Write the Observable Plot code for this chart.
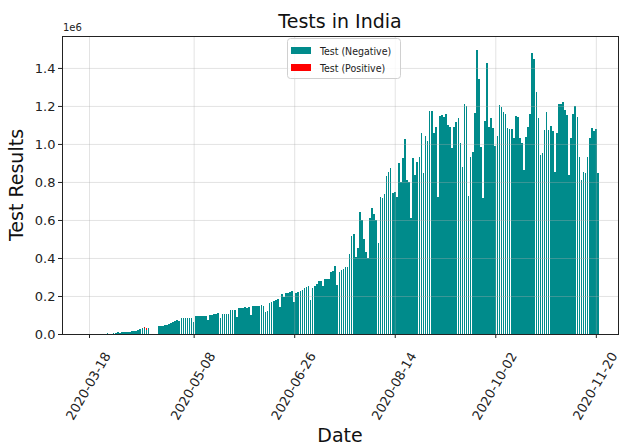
<!DOCTYPE html>
<html><head><meta charset="utf-8">
<script src="https://cdn.jsdelivr.net/npm/d3@7"></script>
<script src="https://cdn.jsdelivr.net/npm/@observablehq/plot@0.6"></script>
<style>
html,body{margin:0;padding:0;background:#fff;}
#chart{position:relative;width:620px;height:445px;overflow:hidden;}
</style></head><body><div id="chart"></div>
<script>
// ---- data (daily tests, in thousands; null = no report) ----
const startDate = "2020-03-18";
const negative = [
 1.5,null,null,null,null,null,null,null,null,5,
 null,null,4,6,8,6,8,9,10,11,
 12,14,14,17,20,25,29,30,22,34,
 null,null,null,null,40,42,44,46,49,53,
 57,63,67,72,70,82,83,83,83,83,
 82,62,94,95,95,96,95,94,74,102,
 102,103,104,112,86,104,103,105,104,124,
 126,125,91,137,138,139,140,139,141,100,
 147,149,148,149,151,149,118,120,165,170,
 175,180,186,140,211,196,214,218,222,224,
 170,215,222,228,232,242,248,252,179,240,
 255,265,281,281,250,288,288,290,328,330,
 360,258,328,335,340,350,353,421,516,526,
 407,451,644,600,500,430,400,609,661,632,
 600,477,719,715,735,832,853,872,740,745,
 720,900,800,925,1025,810,800,609,925,837,
 907,933,1059,846,1040,1015,1175,1175,1060,1091,
 722,1147,1153,1140,1160,1100,1091,977,1091,1118,
 1135,1004,880,1211,1200,728,933,960,1162,1495,
 1340,986,714,1120,1425,1091,1135,1083,990,1040,
 1205,1196,1170,1160,1083,1080,1077,1030,1147,1140,
 1030,1004,863,1039,1091,1160,1477,1446,1275,1135,
 942,955,1074,1170,1074,1095,1070,854,1056,1211,
 1211,1223,1180,1150,837,1030,1158,1200,1140,933,
 811,854,849,933,1030,1083,1070,1077,849
];
const positiveDates = ["2020-04-03","2020-04-06","2020-04-09","2020-04-14","2020-04-15","2020-04-21"];
const positiveValues = [2,2,3,5,8,3];
const seriesNames = ["Test (Negative)", "Test (Positive)"];
const seriesColors = ["#008b8b", "#ff0000"];
const xTickLabels = ["2020-03-18","2020-05-08","2020-06-26","2020-08-14","2020-10-02","2020-11-20"];
const yTickValues = [0, 0.2, 0.4, 0.6, 0.8, 1.0, 1.2, 1.4];

// ---- build table ----
const DAY = 864e5;
const t0 = Date.parse(startDate);
const negByTime = new Map();
const rows = [];
negative.forEach((v, i) => {
  if (v == null) return;
  const t = t0 + i * DAY;
  negByTime.set(t, v * 1000);
  rows.push({t, series: seriesNames[0], lo: 0, hi: v * 1000});
});
positiveDates.forEach((d, i) => {
  const t = Date.parse(d);
  const base = negByTime.get(t) || 0;
  rows.push({t, series: seriesNames[1], lo: base, hi: base + positiveValues[i] * 1000});
});
const xTicks = xTickLabels.map(d => new Date(d));
const yTicks = yTickValues.map(v => v * 1e6);

const W = 620, H = 445, mL = 62, mR = 2, mT = 36, mB = 111;
const xDomain = [new Date(t0 - 13.16 * DAY), new Date(t0 + 257.8 * DAY)];

const plot = Plot.plot({
  width: W, height: H,
  marginLeft: mL, marginRight: mR, marginTop: mT, marginBottom: mB,
  style: {fontFamily: "DejaVu Sans", fontSize: "13px", color: "#222", background: "#fff"},
  x: {type: "utc", domain: xDomain},
  y: {domain: [0, 1.568e6]},
  color: {domain: seriesNames, range: seriesColors},
  marks: [
    Plot.rect(rows, {
      x1: d => new Date(d.t - 0.4 * DAY),
      x2: d => new Date(d.t + 0.4 * DAY),
      y1: "lo", y2: "hi", fill: "series",
      shapeRendering: "crispEdges"
    }),
    Plot.gridY(yTicks, {stroke: "#b0b0b0", strokeOpacity: 0.35, strokeWidth: 1}),
    Plot.gridX(xTicks, {stroke: "#b0b0b0", strokeOpacity: 0.35, strokeWidth: 1}),
    Plot.axisY(yTicks, {tickFormat: d => (d / 1e6).toFixed(1), tickSize: 4, tickPadding: 3, fontSize: 13, label: null, stroke: "#222"}),
    Plot.axisX(xTicks, {tickFormat: () => "", tickSize: 4, label: null, stroke: "#222"}),
    Plot.text(xTicks, {
      x: d => d, frameAnchor: "bottom",
      text: d => d3.utcFormat("%Y-%m-%d")(d),
      rotate: -60, textAnchor: "end", lineAnchor: "middle",
      dx: 18, dy: 19, fontSize: 13, fill: "#222"
    }),
    Plot.frame({stroke: "#222", strokeWidth: 1})
  ]
});

const svg = d3.select(plot);
const font = "DejaVu Sans";
svg.append("text").attr("x", mL + (W - mL - mR) / 2).attr("y", 28)
  .attr("text-anchor", "middle").attr("font-family", font).attr("font-size", 19).attr("fill", "#111")
  .text("Tests in India");
svg.append("text").attr("x", mL + 1).attr("y", 31).attr("text-anchor", "start")
  .attr("font-family", font).attr("font-size", 10).attr("fill", "#222").text("1e6");
svg.append("text").attr("transform", `translate(23,${mT + (H - mT - mB) / 2}) rotate(-90)`)
  .attr("text-anchor", "middle").attr("font-family", font).attr("font-size", 19).attr("fill", "#111")
  .text("Test Results");
svg.append("text").attr("x", mL + (W - mL - mR) / 2).attr("y", 442)
  .attr("text-anchor", "middle").attr("font-family", font).attr("font-size", 19).attr("fill", "#111")
  .text("Date");
// legend
const lg = svg.append("g");
lg.append("rect").attr("x", 287.5).attr("y", 38.5).attr("width", 113).attr("height", 40).attr("rx", 3)
  .attr("fill", "#fff").attr("fill-opacity", 0.8).attr("stroke", "#d0d0d0");
seriesNames.forEach((name, i) => {
  lg.append("rect").attr("x", 291).attr("y", 47 + i * 17).attr("width", 20).attr("height", 7).attr("fill", seriesColors[i]);
  lg.append("text").attr("x", 320).attr("y", 54.5 + i * 17).attr("text-anchor", "start")
    .attr("font-family", "DejaVu Sans Condensed, DejaVu Sans").attr("font-stretch", "condensed")
    .attr("font-size", 10.5).attr("fill", "#222").text(name);
});
document.getElementById("chart").appendChild(plot);
</script>
</body></html>
